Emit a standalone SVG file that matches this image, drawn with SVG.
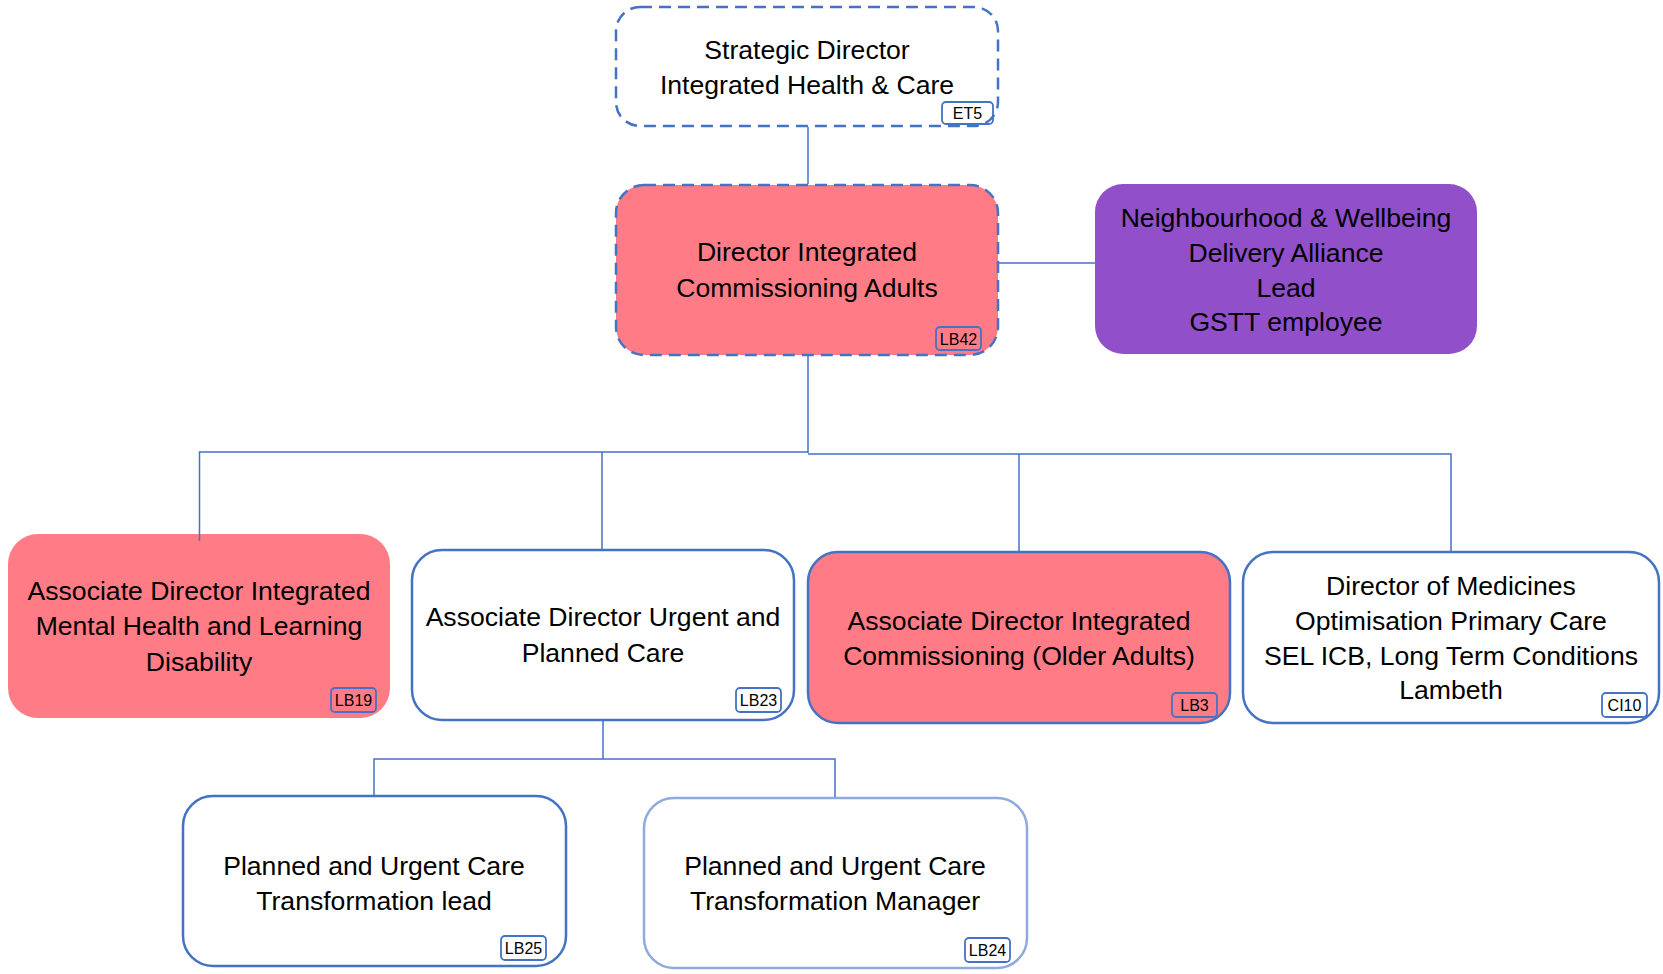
<svg xmlns="http://www.w3.org/2000/svg" width="1663" height="974" viewBox="0 0 1663 974">
<style>
.box{stroke:#4472C4;stroke-width:2.5}
.dash{stroke-dasharray:12 7}
.pink{fill:#FF7C87}
.white{fill:#FFFFFF}
.purple{fill:#914FC9;stroke:none}
.light{stroke:#8FAADC}
.t{font-family:"Liberation Sans",Arial,sans-serif;font-size:26.6px;fill:#000;text-anchor:middle}
.badge{fill:none;stroke:#4472C4;stroke-width:1.8}
.bt{font-family:"Liberation Sans",Arial,sans-serif;font-size:16px;fill:#000;text-anchor:middle}
.conn{fill:none;stroke:#4472C4;stroke-width:1.5}
</style>
<rect width="1663" height="974" fill="#FFFFFF"/>
<g id="node-et5">
<rect class="box dash white" x="616" y="7" width="382" height="119" rx="24"/>
<text class="t" x="807" y="59">Strategic Director</text>
<text class="t" x="807" y="94">Integrated Health &amp; Care</text>
<rect class="badge" x="942" y="102" width="51" height="22" rx="4"/>
<text class="bt" x="967.5" y="119">ET5</text>
</g>
<g id="node-lb42">
<rect class="box dash pink" x="616" y="185" width="382" height="170" rx="28"/>
<text class="t" x="807" y="261">Director Integrated</text>
<text class="t" x="807" y="297">Commissioning Adults</text>
<rect class="badge" x="936" y="327" width="45" height="23" rx="4"/>
<text class="bt" x="958.5" y="344.5">LB42</text>
</g>
<g id="node-alliance">
<rect class="purple" x="1095" y="184" width="382" height="170" rx="28"/>
<text class="t" x="1286" y="227">Neighbourhood &amp; Wellbeing</text>
<text class="t" x="1286" y="262">Delivery Alliance</text>
<text class="t" x="1286" y="297">Lead</text>
<text class="t" x="1286" y="331">GSTT employee</text>
</g>
<g id="node-lb19">
<rect class="pink" x="8" y="534" width="382" height="184" rx="30"/>
<text class="t" x="199" y="600">Associate Director Integrated</text>
<text class="t" x="199" y="635">Mental Health and Learning</text>
<text class="t" x="199" y="671">Disability</text>
<rect class="badge" x="331" y="688" width="45" height="24" rx="4"/>
<text class="bt" x="353.5" y="706">LB19</text>
</g>
<g id="node-lb23">
<rect class="box white" x="412" y="550" width="382" height="170" rx="30"/>
<text class="t" x="603" y="626">Associate Director Urgent and</text>
<text class="t" x="603" y="662">Planned Care</text>
<rect class="badge" x="736" y="688" width="45" height="24" rx="4"/>
<text class="bt" x="758.5" y="706">LB23</text>
</g>
<g id="node-lb3">
<rect class="box pink" x="808" y="552" width="422" height="171" rx="30"/>
<text class="t" x="1019" y="630">Associate Director Integrated</text>
<text class="t" x="1019" y="665">Commissioning (Older Adults)</text>
<rect class="badge" x="1172" y="693" width="45" height="24" rx="4"/>
<text class="bt" x="1194.5" y="711">LB3</text>
</g>
<g id="node-ci10">
<rect class="box white" x="1243" y="552" width="416" height="171" rx="30"/>
<text class="t" x="1451" y="595">Director of Medicines</text>
<text class="t" x="1451" y="630">Optimisation Primary Care</text>
<text class="t" x="1451" y="665">SEL ICB, Long Term Conditions</text>
<text class="t" x="1451" y="699">Lambeth</text>
<rect class="badge" x="1602" y="693" width="45" height="24" rx="4"/>
<text class="bt" x="1624.5" y="711">CI10</text>
</g>
<g id="node-lb25">
<rect class="box white" x="183" y="796" width="383" height="170" rx="30"/>
<text class="t" x="374" y="875">Planned and Urgent Care</text>
<text class="t" x="374" y="910">Transformation lead</text>
<rect class="badge" x="501" y="936" width="45" height="24" rx="4"/>
<text class="bt" x="523.5" y="954">LB25</text>
</g>
<g id="node-lb24">
<rect class="box light white" x="644" y="798" width="383" height="170" rx="30"/>
<text class="t" x="835" y="875">Planned and Urgent Care</text>
<text class="t" x="835" y="910">Transformation Manager</text>
<rect class="badge" x="965" y="938" width="45" height="24" rx="4"/>
<text class="bt" x="987.5" y="956">LB24</text>
</g>
<g id="connectors">
<path class="conn" d="M808 127 V184"/>
<path class="conn" d="M999 263 H1095"/>
<path class="conn" d="M808 356 V453"/>
<path class="conn" d="M199.5 541 V452 H808"/>
<path class="conn" d="M602 549 V452"/>
<path class="conn" d="M808 454 H1451 V551"/>
<path class="conn" d="M1019 454 V551"/>
<path class="conn" d="M603 721 V759"/>
<path class="conn" d="M374 795 V759 H835 V797"/>
</g>
</svg>
